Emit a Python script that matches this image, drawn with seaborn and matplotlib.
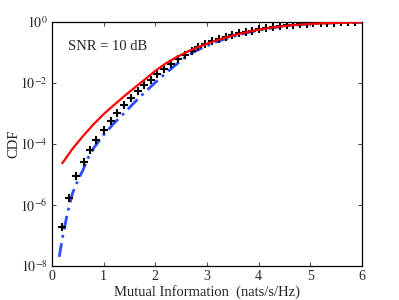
import numpy as np
import pandas as pd
import matplotlib
matplotlib.use("Agg")
import matplotlib.pyplot as plt
import seaborn as sns

# simulated CDF points (black +), log10 of CDF
sim_x = [0.19, 0.33, 0.46, 0.61, 0.74, 0.86, 1.00, 1.14, 1.26, 1.39, 1.53,
         1.66, 1.79, 1.91, 2.04, 2.17, 2.30, 2.44, 2.57, 2.70, 2.83, 2.96,
         3.09, 3.23, 3.36, 3.49, 3.62, 3.75, 3.88, 4.01, 4.14, 4.27, 4.41,
         4.54, 4.67, 4.80, 4.93, 5.06, 5.20, 5.33, 5.46, 5.59, 5.72, 5.86]
sim_log = [-6.71, -5.77, -5.05, -4.58, -4.21, -3.87, -3.53, -3.25, -2.98,
           -2.71, -2.48, -2.27, -2.07, -1.90, -1.71, -1.54, -1.37, -1.21,
           -1.08, -0.94, -0.83, -0.73, -0.63, -0.56, -0.49, -0.43, -0.37,
           -0.33, -0.29, -0.24, -0.20, -0.16, -0.13, -0.105, -0.085, -0.068,
           -0.053, -0.041, -0.031, -0.023, -0.017, -0.012, -0.008, -0.005]

# red solid curve
red_x = [0.2, 0.4, 0.6, 0.8, 1.0, 1.2, 1.4, 1.6, 1.8, 2.0, 2.2, 2.4, 2.6,
         2.8, 3.0, 3.2, 3.4, 3.6, 3.8, 4.0, 4.3, 4.6, 5.0, 5.5, 6.0]
red_log = [-4.63, -4.15, -3.74, -3.36, -3.02, -2.72, -2.43, -2.15, -1.88,
           -1.60, -1.36, -1.16, -0.99, -0.84, -0.71, -0.59, -0.49, -0.40,
           -0.32, -0.25, -0.17, -0.11, -0.06, -0.025, -0.01]

# blue dash-dot curve
blue_x = [0.14, 0.2, 0.3, 0.4, 0.5, 0.6, 0.7, 0.8, 1.0, 1.2, 1.4, 1.6, 1.8,
          2.0, 2.2, 2.4, 2.6, 2.8, 3.0, 3.2, 3.4, 3.6, 3.8, 4.0, 4.3, 4.6,
          5.0, 5.5, 6.0]
blue_log = [-7.7, -7.1, -6.25, -5.6, -5.2, -4.85, -4.45, -4.15, -3.70, -3.32,
            -2.98, -2.63, -2.30, -1.98, -1.68, -1.40, -1.12, -0.93, -0.78,
            -0.64, -0.53, -0.43, -0.34, -0.27, -0.18, -0.115, -0.06, -0.025,
            -0.01]

y_ticks = [1e-8, 1e-6, 1e-4, 1e-2, 1e0]
y_ticklabels = [r"$10^{-8}$", r"$10^{-6}$", r"$10^{-4}$", r"$10^{-2}$", r"$10^{0}$"]

sns.set_style("ticks")
plt.rcParams["font.family"] = ["Liberation Serif", "DejaVu Serif"]
plt.rcParams["mathtext.fontset"] = "stix"

df_sim = pd.DataFrame({"x": sim_x, "y": 10 ** np.array(sim_log)})
df_red = pd.DataFrame({"x": red_x, "y": 10 ** np.array(red_log)})
df_blue = pd.DataFrame({"x": blue_x, "y": 10 ** np.array(blue_log)})

fig = plt.figure(figsize=(3.99, 3.0), dpi=100)
ax = fig.add_axes([0.1303, 0.1133, 0.777, 0.8133])

sns.lineplot(data=df_blue, x="x", y="y", ax=ax, color="#2a4dff",
             linewidth=2.0, linestyle=(0, (5, 2, 1, 2)))
sns.scatterplot(data=df_sim, x="x", y="y", ax=ax, marker="+", s=40,
                color="black", linewidth=1.5, zorder=3)
sns.lineplot(data=df_red, x="x", y="y", ax=ax, color="red", linewidth=1.6,
             zorder=4)

ax.set_yscale("log")
ax.set_xlim(0, 6)
ax.set_ylim(1e-8, 1e0)
ax.set_yticks(y_ticks)
ax.set_yticklabels(y_ticklabels)
ax.minorticks_off()
ax.set_xticks(range(0, 7))

ax.tick_params(direction="in", top=True, right=True, length=3, width=0.6,
               labelsize=10, pad=3)
for s in ax.spines.values():
    s.set_linewidth(0.9)
    s.set_color("black")

ax.set_xlabel("Mutual Information  (nats/s/Hz)", fontsize=10.5, labelpad=1)
ax.set_ylabel("CDF", fontsize=10.5)
ax.yaxis.set_label_coords(-0.103, 0.5)
ax.text(0.31, 10 ** -0.92, "SNR = 10 dB", fontsize=10.5)

fig.savefig("out.png", dpi=100)
